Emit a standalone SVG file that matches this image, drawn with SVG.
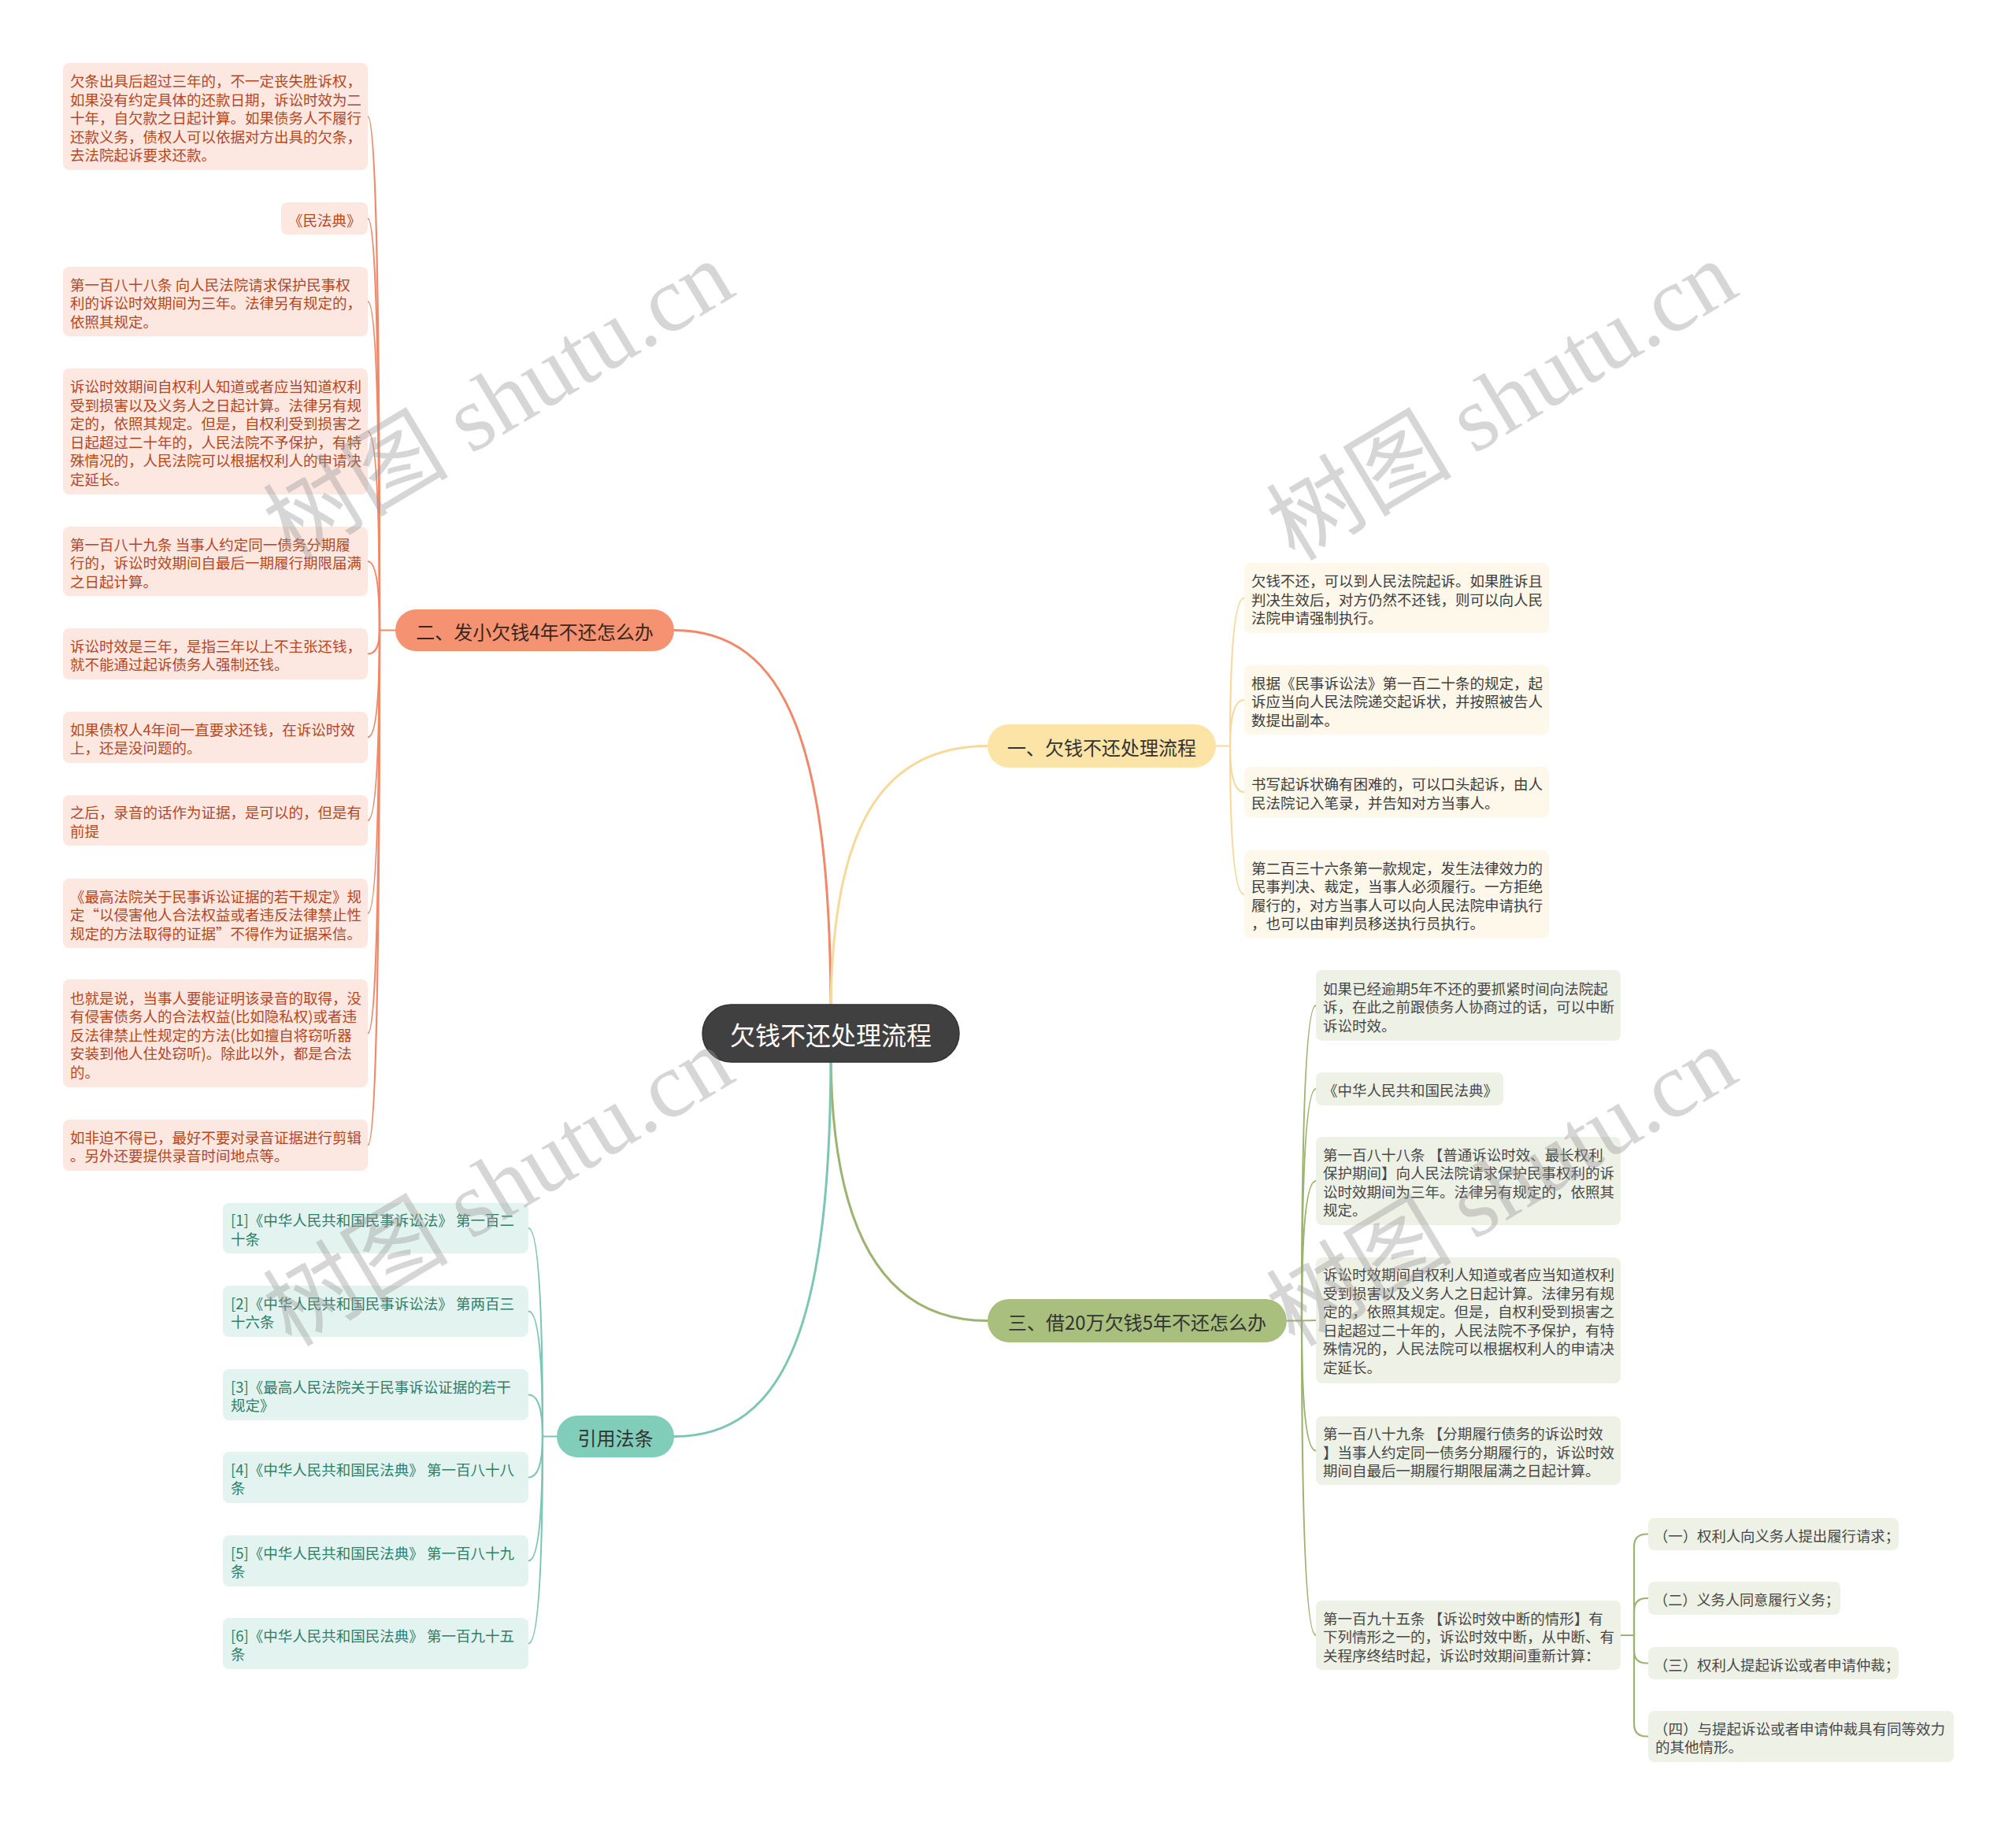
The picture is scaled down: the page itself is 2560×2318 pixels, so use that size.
<svg xmlns="http://www.w3.org/2000/svg" width="2560" height="2318" viewBox="0 0 2560 2318">
<style>
text { font-family: "Noto Sans CJK SC", "Microsoft YaHei", sans-serif; dominant-baseline: central; }
.lf { font-size: 18.5px; }
.br { font-size: 24px; text-anchor: middle; }
.ctr { font-size: 32px; fill: #ffffff; text-anchor: middle; }
.to { fill: #B4471F; }
.ty { fill: #3d3d3d; }
.tg { fill: #484848; }
.tt { fill: #2E7F6A; }
.tb { fill: #333333; }
.bo { fill: #FDE8E1; }
.by { fill: #FEF8EB; }
.bg { fill: #EEF1E6; }
.bt { fill: #E3F3EF; }
.c { fill: none; stroke-linecap: round; }
.co { stroke: #F0896A; }
.cy { stroke: #F7D99A; }
.cg { stroke: #9DB471; }
.ct { stroke: #7CC6B3; }
.main { stroke-width: 3; }
.sub { stroke-width: 2.2; }
.wm { font-family: "Liberation Serif", "Noto Sans CJK SC", serif; font-size: 118px; fill: #9a9a9a; opacity: 0.4; dominant-baseline: alphabetic; }
</style>

<g id="connectors">
  <path class="c co main" d="M 1055 1290 C 1055 950, 1000 800.5, 856 800.5"/>
  <path class="c cy main" d="M 1055 1290 C 1055 1050, 1120 947.5, 1254 947.5"/>
  <path class="c cg main" d="M 1055 1335 C 1055 1560, 1120 1677.5, 1254 1677.5"/>
  <path class="c ct main" d="M 1055 1335 C 1055 1675, 1000 1824.5, 856 1824.5"/>

  <path class="c co sub" d="M 502 800.5 L 482 800.5"/>
  <path class="c co sub" d="M 482 800.5 Q 482 148 467 148"/>
  <path class="c co sub" d="M 482 800.5 Q 482 277.5 467 277.5"/>
  <path class="c co sub" d="M 482 800.5 Q 482 383 467 383"/>
  <path class="c co sub" d="M 482 800.5 Q 482 548 467 548"/>
  <path class="c co sub" d="M 482 800.5 Q 482 713 467 713"/>
  <path class="c co sub" d="M 482 800.5 Q 482 830.5 467 830.5"/>
  <path class="c co sub" d="M 482 800.5 Q 482 936.5 467 936.5"/>
  <path class="c co sub" d="M 482 800.5 Q 482 1042 467 1042"/>
  <path class="c co sub" d="M 482 800.5 Q 482 1160 467 1160"/>
  <path class="c co sub" d="M 482 800.5 Q 482 1312.5 467 1312.5"/>
  <path class="c co sub" d="M 482 800.5 Q 482 1454.5 467 1454.5"/>

  <path class="c cy sub" d="M 1544 947.5 L 1562 947.5"/>
  <path class="c cy sub" d="M 1562 947.5 Q 1562 759.5 1580 759.5"/>
  <path class="c cy sub" d="M 1562 947.5 Q 1562 889 1580 889"/>
  <path class="c cy sub" d="M 1562 947.5 Q 1562 1006 1580 1006"/>
  <path class="c cy sub" d="M 1562 947.5 Q 1562 1136 1580 1136"/>

  <path class="c cg sub" d="M 1634 1677.5 L 1653 1677.5"/>
  <path class="c cg sub" d="M 1653 1677.5 Q 1653 1277 1671 1277"/>
  <path class="c cg sub" d="M 1653 1677.5 Q 1653 1383 1671 1383"/>
  <path class="c cg sub" d="M 1653 1677.5 Q 1653 1500 1671 1500"/>
  <path class="c cg sub" d="M 1653 1677.5 L 1671 1677"/>
  <path class="c cg sub" d="M 1653 1677.5 Q 1653 1842.5 1671 1842.5"/>
  <path class="c cg sub" d="M 1653 1677.5 Q 1653 2077 1671 2077"/>

  <path class="c cg sub" d="M 2058 2077 L 2075 2077"/>
  <path class="c cg sub" d="M 2075 2077 L 2075 1964.5 Q 2075 1948.5 2091 1948.5 L 2093 1948.5"/>
  <path class="c cg sub" d="M 2075 2077 L 2075 2046 Q 2075 2030 2091 2030 L 2093 2030"/>
  <path class="c cg sub" d="M 2075 2077 L 2075 2096.5 Q 2075 2112.5 2091 2112.5 L 2093 2112.5"/>
  <path class="c cg sub" d="M 2075 2077 L 2075 2189.5 Q 2075 2205.5 2091 2205.5 L 2093 2205.5"/>

  <path class="c ct sub" d="M 707 1824.5 L 689 1824.5"/>
  <path class="c ct sub" d="M 689 1824.5 Q 689 1560 671 1560"/>
  <path class="c ct sub" d="M 689 1824.5 Q 689 1665.5 671 1665.5"/>
  <path class="c ct sub" d="M 689 1824.5 Q 689 1771.5 671 1771.5"/>
  <path class="c ct sub" d="M 689 1824.5 Q 689 1876.5 671 1876.5"/>
  <path class="c ct sub" d="M 689 1824.5 Q 689 1982.5 671 1982.5"/>
  <path class="c ct sub" d="M 689 1824.5 Q 689 2087.5 671 2087.5"/>
</g>

<g id="root">
  <rect x="892" y="1276" width="326" height="73" rx="36.5" fill="#404040" stroke="#333333" stroke-width="1.5"/>
  <text class="ctr" x="1055" y="1313">欠钱不还处理流程</text>
</g>

<g id="branch-2">
  <rect x="502" y="774" width="354" height="53" rx="26.5" fill="#F59272"/>
  <text class="br" x="679" y="801" fill="#3a261c">二、发小欠钱4年不还怎么办</text>
</g>
<g id="branch-1">
  <rect x="1254" y="920" width="290" height="55" rx="27.5" fill="#FCE3A6"/>
  <text class="br tb" x="1399" y="948">一、欠钱不还处理流程</text>
</g>
<g id="branch-3">
  <rect x="1254" y="1650" width="380" height="55" rx="27.5" fill="#A8BF7E"/>
  <text class="br tb" x="1444" y="1678">三、借20万欠钱5年不还怎么办</text>
</g>
<g id="branch-ref">
  <rect x="707" y="1798" width="149" height="53" rx="26.5" fill="#80CDB9"/>
  <text class="br tb" x="781.5" y="1825">引用法条</text>
</g>

<g id="o1"><rect class="bo" x="80" y="80" width="387" height="136" rx="8"/>
<text class="lf to"><tspan x="89" y="102">欠条出具后超过三年的，不一定丧失胜诉权，</tspan><tspan x="89" y="125.5">如果没有约定具体的还款日期，诉讼时效为二</tspan><tspan x="89" y="149">十年，自欠款之日起计算。如果债务人不履行</tspan><tspan x="89" y="172.5">还款义务，债权人可以依据对方出具的欠条，</tspan><tspan x="89" y="196">去法院起诉要求还款。</tspan></text></g>
<g id="o2"><rect class="bo" x="357" y="257" width="110" height="41" rx="8"/>
<text class="lf to"><tspan x="366" y="278.5">《民法典》</tspan></text></g>
<g id="o3"><rect class="bo" x="80" y="339" width="387" height="88" rx="8"/>
<text class="lf to"><tspan x="89" y="360.5">第一百八十八条 向人民法院请求保护民事权</tspan><tspan x="89" y="384">利的诉讼时效期间为三年。法律另有规定的，</tspan><tspan x="89" y="407.5">依照其规定。</tspan></text></g>
<g id="o4"><rect class="bo" x="80" y="468" width="387" height="160" rx="8"/>
<text class="lf to"><tspan x="89" y="490.25">诉讼时效期间自权利人知道或者应当知道权利</tspan><tspan x="89" y="513.75">受到损害以及义务人之日起计算。法律另有规</tspan><tspan x="89" y="537.25">定的，依照其规定。但是，自权利受到损害之</tspan><tspan x="89" y="560.75">日起超过二十年的，人民法院不予保护，有特</tspan><tspan x="89" y="584.25">殊情况的，人民法院可以根据权利人的申请决</tspan><tspan x="89" y="607.75">定延长。</tspan></text></g>
<g id="o5"><rect class="bo" x="80" y="669" width="387" height="88" rx="8"/>
<text class="lf to"><tspan x="89" y="690.5">第一百八十九条 当事人约定同一债务分期履</tspan><tspan x="89" y="714">行的，诉讼时效期间自最后一期履行期限届满</tspan><tspan x="89" y="737.5">之日起计算。</tspan></text></g>
<g id="o6"><rect class="bo" x="80" y="798" width="387" height="65" rx="8"/>
<text class="lf to"><tspan x="89" y="819.75">诉讼时效是三年，是指三年以上不主张还钱，</tspan><tspan x="89" y="843.25">就不能通过起诉债务人强制还钱。</tspan></text></g>
<g id="o7"><rect class="bo" x="80" y="904" width="387" height="65" rx="8"/>
<text class="lf to"><tspan x="89" y="925.75">如果债权人4年间一直要求还钱，在诉讼时效</tspan><tspan x="89" y="949.25">上，还是没问题的。</tspan></text></g>
<g id="o8"><rect class="bo" x="80" y="1010" width="387" height="64" rx="8"/>
<text class="lf to"><tspan x="89" y="1031.25">之后，录音的话作为证据，是可以的，但是有</tspan><tspan x="89" y="1054.75">前提</tspan></text></g>
<g id="o9"><rect class="bo" x="80" y="1116" width="387" height="88" rx="8"/>
<text class="lf to"><tspan x="89" y="1137.5">《最高法院关于民事诉讼证据的若干规定》规</tspan><tspan x="89" y="1161">定“以侵害他人合法权益或者违反法律禁止性</tspan><tspan x="89" y="1184.5">规定的方法取得的证据”不得作为证据采信。</tspan></text></g>
<g id="o10"><rect class="bo" x="80" y="1244" width="387" height="137" rx="8"/>
<text class="lf to"><tspan x="89" y="1266.5">也就是说，当事人要能证明该录音的取得，没</tspan><tspan x="89" y="1290">有侵害债务人的合法权益(比如隐私权)或者违</tspan><tspan x="89" y="1313.5">反法律禁止性规定的方法(比如擅自将窃听器</tspan><tspan x="89" y="1337">安装到他人住处窃听)。除此以外，都是合法</tspan><tspan x="89" y="1360.5">的。</tspan></text></g>
<g id="o11"><rect class="bo" x="80" y="1422" width="387" height="65" rx="8"/>
<text class="lf to"><tspan x="89" y="1443.75">如非迫不得已，最好不要对录音证据进行剪辑</tspan><tspan x="89" y="1467.25">。另外还要提供录音时间地点等。</tspan></text></g>

<g id="y1"><rect class="by" x="1580" y="715" width="387" height="89" rx="8"/>
<text class="lf ty"><tspan x="1589" y="737">欠钱不还，可以到人民法院起诉。如果胜诉且</tspan><tspan x="1589" y="760.5">判决生效后，对方仍然不还钱，则可以向人民</tspan><tspan x="1589" y="784">法院申请强制执行。</tspan></text></g>
<g id="y2"><rect class="by" x="1580" y="845" width="387" height="88" rx="8"/>
<text class="lf ty"><tspan x="1589" y="866.5">根据《民事诉讼法》第一百二十条的规定，起</tspan><tspan x="1589" y="890">诉应当向人民法院递交起诉状，并按照被告人</tspan><tspan x="1589" y="913.5">数提出副本。</tspan></text></g>
<g id="y3"><rect class="by" x="1580" y="974" width="387" height="64" rx="8"/>
<text class="lf ty"><tspan x="1589" y="995.25">书写起诉状确有困难的，可以口头起诉，由人</tspan><tspan x="1589" y="1018.75">民法院记入笔录，并告知对方当事人。</tspan></text></g>
<g id="y4"><rect class="by" x="1580" y="1080" width="387" height="112" rx="8"/>
<text class="lf ty"><tspan x="1589" y="1101.75">第二百三十六条第一款规定，发生法律效力的</tspan><tspan x="1589" y="1125.25">民事判决、裁定，当事人必须履行。一方拒绝</tspan><tspan x="1589" y="1148.75">履行的，对方当事人可以向人民法院申请执行</tspan><tspan x="1589" y="1172.25">，也可以由审判员移送执行员执行。</tspan></text></g>

<g id="g1"><rect class="bg" x="1671" y="1232" width="387" height="90" rx="8"/>
<text class="lf tg"><tspan x="1680" y="1254.5">如果已经逾期5年不还的要抓紧时间向法院起</tspan><tspan x="1680" y="1278">诉，在此之前跟债务人协商过的话，可以中断</tspan><tspan x="1680" y="1301.5">诉讼时效。</tspan></text></g>
<g id="g2"><rect class="bg" x="1671" y="1362" width="238" height="42" rx="8"/>
<text class="lf tg"><tspan x="1680" y="1384">《中华人民共和国民法典》</tspan></text></g>
<g id="g3"><rect class="bg" x="1671" y="1444" width="387" height="112" rx="8"/>
<text class="lf tg"><tspan x="1680" y="1465.75">第一百八十八条 【普通诉讼时效、最长权利</tspan><tspan x="1680" y="1489.25">保护期间】向人民法院请求保护民事权利的诉</tspan><tspan x="1680" y="1512.75">讼时效期间为三年。法律另有规定的，依照其</tspan><tspan x="1680" y="1536.25">规定。</tspan></text></g>
<g id="g4"><rect class="bg" x="1671" y="1597" width="387" height="160" rx="8"/>
<text class="lf tg"><tspan x="1680" y="1618.25">诉讼时效期间自权利人知道或者应当知道权利</tspan><tspan x="1680" y="1641.75">受到损害以及义务人之日起计算。法律另有规</tspan><tspan x="1680" y="1665.25">定的，依照其规定。但是，自权利受到损害之</tspan><tspan x="1680" y="1688.75">日起超过二十年的，人民法院不予保护，有特</tspan><tspan x="1680" y="1712.25">殊情况的，人民法院可以根据权利人的申请决</tspan><tspan x="1680" y="1735.75">定延长。</tspan></text></g>
<g id="g5"><rect class="bg" x="1671" y="1799" width="387" height="87" rx="8"/>
<text class="lf tg"><tspan x="1680" y="1820">第一百八十九条 【分期履行债务的诉讼时效</tspan><tspan x="1680" y="1843.5">】当事人约定同一债务分期履行的，诉讼时效</tspan><tspan x="1680" y="1867">期间自最后一期履行期限届满之日起计算。</tspan></text></g>
<g id="g6"><rect class="bg" x="1671" y="2033" width="387" height="88" rx="8"/>
<text class="lf tg"><tspan x="1680" y="2054.5">第一百九十五条 【诉讼时效中断的情形】有</tspan><tspan x="1680" y="2078">下列情形之一的，诉讼时效中断，从中断、有</tspan><tspan x="1680" y="2101.5">关程序终结时起，诉讼时效期间重新计算：</tspan></text></g>

<g id="s1"><rect class="bg" x="2093" y="1928" width="318" height="41" rx="8"/>
<text class="lf tg" x="2100" y="1949.5" textLength="312" lengthAdjust="spacingAndGlyphs">（一）权利人向义务人提出履行请求；</text></g>
<g id="s2"><rect class="bg" x="2093" y="2009" width="244" height="42" rx="8"/>
<text class="lf tg" x="2100" y="2031" textLength="236" lengthAdjust="spacingAndGlyphs">（二）义务人同意履行义务；</text></g>
<g id="s3"><rect class="bg" x="2093" y="2092" width="318" height="41" rx="8"/>
<text class="lf tg" x="2100" y="2113.5" textLength="312" lengthAdjust="spacingAndGlyphs">（三）权利人提起诉讼或者申请仲裁；</text></g>
<g id="s4"><rect class="bg" x="2093" y="2173" width="388" height="65" rx="8"/>
<text class="lf tg"><tspan x="2100" y="2194.75">（四）与提起诉讼或者申请仲裁具有同等效力</tspan><tspan x="2102" y="2218.25">的其他情形。</tspan></text></g>

<g id="t1"><rect class="bt" x="283" y="1528" width="388" height="64" rx="8"/>
<text class="lf tt"><tspan x="293" y="1549.25">[1]《中华人民共和国民事诉讼法》 第一百二</tspan><tspan x="293" y="1572.75">十条</tspan></text></g>
<g id="t2"><rect class="bt" x="283" y="1633" width="388" height="65" rx="8"/>
<text class="lf tt"><tspan x="293" y="1654.75">[2]《中华人民共和国民事诉讼法》 第两百三</tspan><tspan x="293" y="1678.25">十六条</tspan></text></g>
<g id="t3"><rect class="bt" x="283" y="1739" width="388" height="65" rx="8"/>
<text class="lf tt"><tspan x="293" y="1760.75">[3]《最高人民法院关于民事诉讼证据的若干</tspan><tspan x="293" y="1784.25">规定》</tspan></text></g>
<g id="t4"><rect class="bt" x="283" y="1844" width="388" height="65" rx="8"/>
<text class="lf tt"><tspan x="293" y="1865.75">[4]《中华人民共和国民法典》 第一百八十八</tspan><tspan x="293" y="1889.25">条</tspan></text></g>
<g id="t5"><rect class="bt" x="283" y="1950" width="388" height="65" rx="8"/>
<text class="lf tt"><tspan x="293" y="1971.75">[5]《中华人民共和国民法典》 第一百八十九</tspan><tspan x="293" y="1995.25">条</tspan></text></g>
<g id="t6"><rect class="bt" x="283" y="2055" width="388" height="65" rx="8"/>
<text class="lf tt"><tspan x="293" y="2076.75">[6]《中华人民共和国民法典》 第一百九十五</tspan><tspan x="293" y="2100.25">条</tspan></text></g>

<g id="watermarks">
  <text class="wm" transform="translate(370 714) rotate(-31)">树图 shutu.cn</text>
  <text class="wm" transform="translate(1644 714) rotate(-31)">树图 shutu.cn</text>
  <text class="wm" transform="translate(370 1712) rotate(-31)">树图 shutu.cn</text>
  <text class="wm" transform="translate(1644 1712) rotate(-31)">树图 shutu.cn</text>
</g>
</svg>
